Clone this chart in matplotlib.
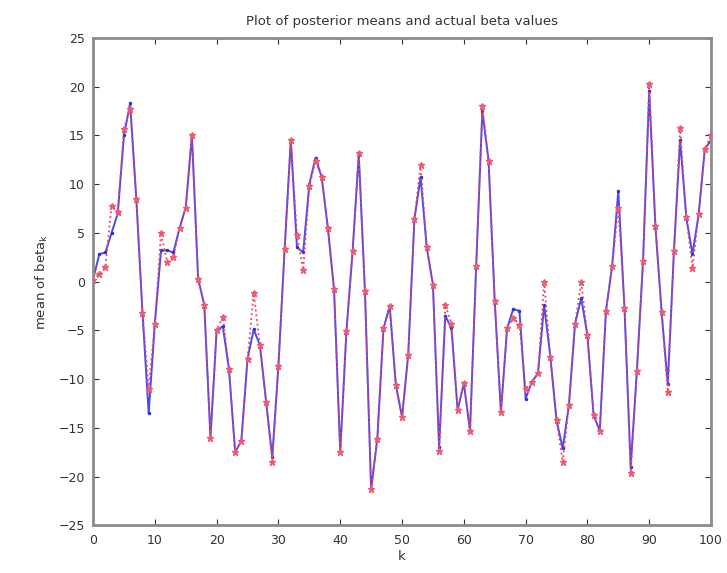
import matplotlib
matplotlib.use("Agg")
import matplotlib.pyplot as plt
import numpy as np

k = np.arange(0, 101)

actual_beta = [
    0.2, 0.8, 1.5, 7.8, 7.1, 15.7, 17.7, 8.5, -3.2, -11.0,
    -4.3, 5.0, 2.0, 2.5, 5.5, 7.6, 15.0, 0.3, -2.4, -16.0,
    -5.0, -3.6, -9.0, -17.5, -16.3, -7.9, -1.2, -6.5, -12.3, -18.5,
    -8.6, 3.3, 14.5, 4.8, 1.2, 9.8, 12.4, 10.7, 5.5, -0.8,
    -17.5, -5.1, 3.1, 13.2, -1.0, -21.3, -16.1, -4.8, -2.5, -10.6,
    -13.9, -7.5, 6.4, 12.0, 3.5, -0.3, -17.4, -2.4, -4.3, -13.2,
    -10.4, -15.3, 1.6, 18.0, 12.4, -2.0, -13.4, -4.8, -3.7, -4.4,
    -11.0, -10.3, -9.4, 0.0, -7.7, -14.2, -18.5, -12.7, -4.3, 0.0,
    -5.5, -13.7, -15.3, -3.0, 1.6, 7.6, -2.7, -19.6, -9.2, 2.1,
    20.3, 5.7, -3.1, -11.3, 3.1, 15.8, 6.6, 1.4, 6.9, 13.6,
    15.0,
]

posterior_mean = [
    0.2, 2.8, 3.0, 5.0, 7.0, 15.0, 18.3, 8.5, -3.2, -13.5,
    -4.3, 3.2, 3.2, 3.0, 5.5, 7.6, 15.0, 0.3, -2.4, -16.0,
    -5.0, -4.6, -9.0, -17.5, -16.3, -7.9, -4.9, -6.5, -12.3, -18.0,
    -8.6, 3.3, 14.5, 3.5, 3.0, 10.0, 12.7, 10.7, 5.5, -0.8,
    -17.5, -5.1, 3.1, 13.0, -1.0, -21.3, -16.1, -4.8, -2.5, -10.6,
    -13.9, -7.5, 6.4, 10.7, 3.5, -0.3, -17.0, -3.5, -4.8, -13.2,
    -10.4, -15.3, 1.6, 17.5, 12.4, -2.0, -13.4, -4.8, -2.8, -3.0,
    -12.0, -10.3, -9.4, -2.4, -7.7, -14.2, -17.1, -12.7, -4.3, -1.7,
    -5.5, -13.7, -15.3, -3.0, 1.6, 9.3, -2.7, -19.0, -9.2, 2.1,
    19.5, 5.7, -3.1, -10.5, 3.1, 14.5, 6.6, 2.8, 6.9, 13.6,
    14.5,
]

x_ticks = list(range(0, 101, 10))
y_ticks = list(range(-25, 26, 5))

fig = plt.figure(figsize=(7.27, 5.73), dpi=100)
ax = fig.add_axes([0.128, 0.083, 0.850, 0.851])

ax.plot(k, posterior_mean, '-', color='#4a4af0', lw=1.4, marker='.',
        markersize=3, markerfacecolor='#3030d0', markeredgecolor='#3030d0', zorder=2)
ax.plot(k, actual_beta, ':', color='#f04060', lw=1.3, marker='*',
        markersize=5, markerfacecolor='#f05a70', markeredgecolor='#f05a70', zorder=3)

ax.set_xlim(0, 100)
ax.set_ylim(-25, 25)
ax.set_xticks(x_ticks)
ax.set_yticks(y_ticks)
ax.tick_params(direction='in', top=True, right=True, length=4, width=0.8,
               labelsize=9, colors='#333333', pad=6)
for s in ax.spines.values():
    s.set_color('#8c8c8c')
    s.set_linewidth(2.0)

ax.set_title('Plot of posterior means and actual beta values', fontsize=9.5,
             color='#333333', pad=9)
ax.set_xlabel('k', fontsize=9.5, color='#333333', labelpad=2)
ax.set_ylabel(r'mean of beta$_\mathregular{k}$', fontsize=9.5, color='#333333', labelpad=6)

fig.savefig('out.png', dpi=100, facecolor='white')
